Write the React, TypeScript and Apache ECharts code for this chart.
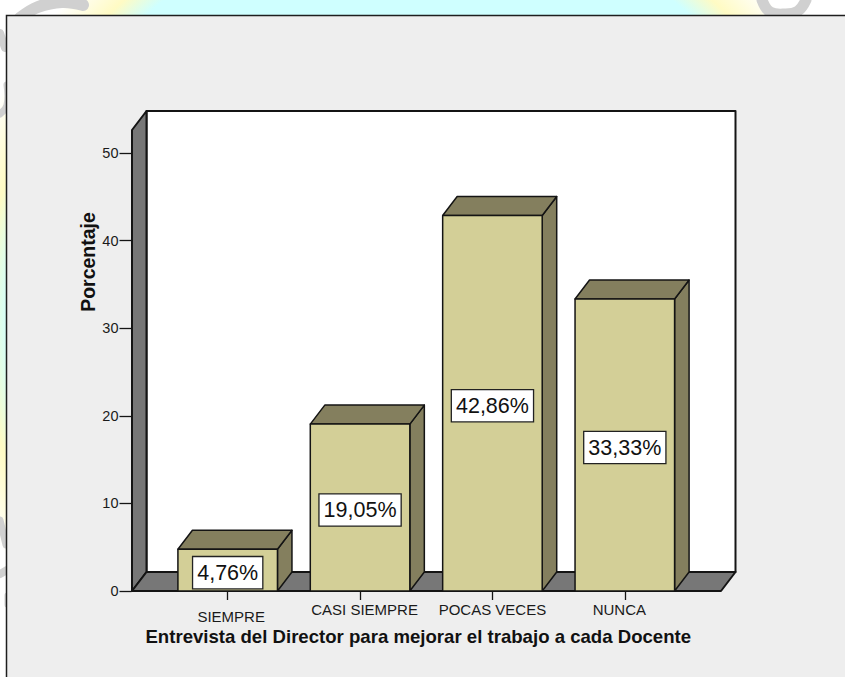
import React, { useEffect, useRef } from "react";
import * as echarts from "echarts";

const categories = ["SIEMPRE", "CASI SIEMPRE", "POCAS VECES", "NUNCA"];
const percentValues = [4.76, 19.05, 42.86, 33.33];
const yTicks = { min: 0, max: 50, interval: 10 };
const yAxisTitle = "Porcentaje";
const xAxisTitle = "Entrevista del Director para mejorar el trabajo a cada Docente";

const INK = "#141414";
const FRONT = "#D3CF97";
const SHADE = "#847F5E";
const WALL = "#777777";
const PANEL = "#EEEEEE";
const DX = 14.5;
const DY = -19;
const FONT = '"Liberation Sans", Arial, sans-serif';

function renderWalls(params: any, api: any) {
  const cs = params.coordSys;
  const y0 = api.coord([0, 0])[1];
  const x0 = cs.x - 29.5;
  const x1 = cs.x + cs.width + 30;
  const top = cs.y - 23;
  const edge = { stroke: INK, lineWidth: 2, lineJoin: "round" };
  return {
    type: "group",
    children: [
      { type: "polygon", shape: { points: [[x0 + DX, top + DY], [x1 + DX, top + DY], [x1 + DX, y0 + DY], [x0 + DX, y0 + DY]] }, style: { fill: "#FFFFFF", ...edge } },
      { type: "polygon", shape: { points: [[x0, y0], [x0 + DX, y0 + DY], [x0 + DX, top + DY], [x0, top]] }, style: { fill: WALL, ...edge } },
      { type: "polygon", shape: { points: [[x0, y0], [x1, y0], [x1 + DX, y0 + DY], [x0 + DX, y0 + DY]] }, style: { fill: WALL, ...edge } },
    ],
  };
}

function renderBar(_params: any, api: any) {
  const idx = api.value(0);
  const val = api.value(1);
  const [cx, yTop] = api.coord([idx, val]);
  const yBase = api.coord([idx, 0])[1];
  const w = api.size([1, 0])[0] * 0.752;
  const l = cx - w / 2;
  const r = cx + w / 2;
  const edge = { stroke: INK, lineWidth: 1.5, lineJoin: "round" };
  return {
    type: "group",
    children: [
      { type: "polygon", shape: { points: [[r, yTop], [r + DX, yTop + DY], [r + DX, yBase + DY], [r, yBase]] }, style: { fill: SHADE, ...edge } },
      { type: "polygon", shape: { points: [[l, yTop], [l + DX, yTop + DY], [r + DX, yTop + DY], [r, yTop]] }, style: { fill: SHADE, ...edge } },
      { type: "polygon", shape: { points: [[l, yTop], [r, yTop], [r, yBase], [l, yBase]] }, style: { fill: FRONT, ...edge } },
      {
        type: "text",
        style: {
          text: val.toFixed(2).replace(".", ",") + "%",
          x: cx,
          y: (yTop + yBase) / 2 + 2.5,
          align: "center",
          verticalAlign: "middle",
          font: `21.5px ${FONT}`,
          fill: "#111111",
          backgroundColor: "#FFFFFF",
          borderColor: "#222222",
          borderWidth: 1.3,
          padding: [5, 4, 4, 4],
        },
      },
    ],
  };
}

const smear = (points: number[][], lineWidth: number) => ({
  type: "polyline",
  z: -9,
  shape: { points, smooth: 0.4 },
  style: { stroke: "#D0D0D0", lineWidth, fill: "none", lineCap: "round" },
});

export default function App() {
  const ref = useRef<HTMLDivElement>(null);
  useEffect(() => {
    document.body.style.margin = "0";
    const chart = echarts.init(ref.current!, null, { renderer: "svg" });
    chart.setOption({
      animation: false,
      backgroundColor: "#FFFFFF",
      graphic: {
        elements: [
          {
            type: "circle",
            z: -10,
            shape: { cx: 418, cy: 320, r: 475 },
            style: {
              fill: new echarts.graphic.RadialGradient(0.5, 0.5, 0.5, [
                { offset: 0, color: "#CFFFFF" },
                { offset: 0.86, color: "#CFFFFF" },
                { offset: 0.915, color: "#FFFBC4" },
                { offset: 1, color: "#FFFFFF" },
              ]),
            },
          },
          smear([[20, 18], [38, 7], [62, 2], [83, 5]], 12),
          smear([[762, 0], [770, 12], [785, 14], [798, 11], [806, 0]], 11),
          smear([[0, 33], [5, 48]], 8),
          smear([[0, 114], [7, 105], [7, 85]], 7),
          smear([[0, 520], [6, 545]], 7),
          smear([[0, 574], [7, 570]], 8),
          smear([[7, 595], [7, 605]], 5),
          {
            type: "rect",
            z: -8,
            shape: { x: 6.5, y: 15.5, width: 850, height: 680 },
            style: { fill: PANEL, stroke: "#1E1E1E", lineWidth: 1.5 },
          },
        ],
      },
      grid: { left: 161.5, top: 153, width: 529.5, height: 438 },
      xAxis: {
        type: "category",
        data: [
          { value: categories[0], textStyle: { padding: [7, 0, 0, 7] } },
          { value: categories[1], textStyle: { padding: [0, 0, 0, 9] } },
          { value: categories[2], textStyle: { padding: [0, 0, 0, 0] } },
          { value: categories[3], textStyle: { padding: [0, 11, 0, 0] } },
        ],
        axisLine: { show: false },
        axisTick: { show: true, alignWithLabel: true, length: 9, lineStyle: { color: INK, width: 1.3 } },
        axisLabel: { interval: 0, color: "#1A1A1A", fontFamily: FONT, fontSize: 15, margin: 11, hideOverlap: false },
        name: xAxisTitle,
        nameLocation: "middle",
        nameGap: 36,
        nameMoveOverlap: false,
        nameTextStyle: { color: "#111111", fontFamily: FONT, fontSize: 18.6, fontWeight: "bold", padding: [0, 16, 0, 0] },
      },
      yAxis: {
        type: "value",
        min: yTicks.min,
        max: yTicks.max,
        interval: yTicks.interval,
        offset: 30,
        splitLine: { show: false },
        axisLine: { show: false },
        axisTick: { show: true, length: 12, lineStyle: { color: INK, width: 1.3 } },
        axisLabel: { color: "#1A1A1A", fontFamily: FONT, fontSize: 14.5, margin: 13 },
        name: yAxisTitle,
        nameLocation: "middle",
        nameGap: 34,
        nameMoveOverlap: false,
        nameRotate: 90,
        nameTextStyle: { color: "#111111", fontFamily: FONT, fontSize: 19.5, fontWeight: "bold", padding: [0, 0, 0, 220] },
      },
      series: [
        { type: "custom", z: 1, silent: true, clip: false, renderItem: renderWalls, data: [[0, 0]], encode: { x: 0, y: 1 } },
        { type: "custom", z: 3, silent: true, clip: false, renderItem: renderBar, data: percentValues.map((v, i) => [i, v]), encode: { x: 0, y: 1 } },
      ],
    });
    return () => chart.dispose();
  }, []);
  return <div ref={ref} style={{ width: 845, height: 677 }} />;
}
